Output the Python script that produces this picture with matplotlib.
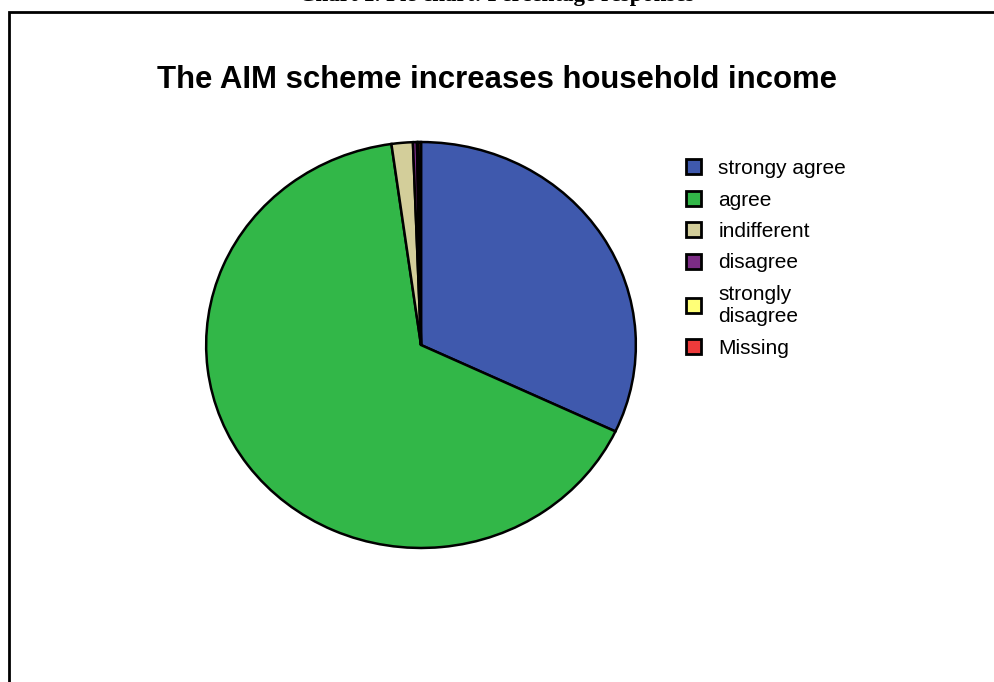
"""Pie chart of responses: "The AIM scheme increases household income"."""
import matplotlib

matplotlib.use('Agg')
import matplotlib.pyplot as plt
from matplotlib.patches import Rectangle

W_PX, H_PX = 994, 682
DPI = 100

categories = ['strongy agree', 'agree', 'indifferent', 'disagree',
              'strongly\ndisagree', 'Missing']
percentages = [32.0, 65.8, 1.6, 0.3, 0.1, 0.2]
colors = ['#3F59AD', '#32B748', '#D3CE9A', '#7C2C85', '#FFFF77', '#EE3B3B']

caption = 'Chart 1. Pie chart: Percentage responses'
title = 'The AIM scheme increases household income'


def fx(px):
    return px / W_PX


def fy(py):
    return 1 - py / H_PX


def main():
    fig = plt.figure(figsize=(W_PX / DPI, H_PX / DPI), dpi=DPI)

    # outer frame (cut at right and bottom in the source)
    fig.patches.append(Rectangle((fx(9), fy(720)), fx(1020), fy(12) - fy(720),
                                 transform=fig.transFigure, fill=False,
                                 edgecolor='black', linewidth=2.0))

    # caption above the frame, mostly cut off at the top
    fig.text(0.5, fy(1), caption, ha='center', va='baseline',
             family='Liberation Serif', fontweight='bold', fontsize=16.5)

    fig.text(0.5, fy(88), title, ha='center', va='baseline',
             family='Liberation Sans', fontweight='bold', fontsize=22.4)

    # pie box in pixels: x 204..638, y 140..550
    ax = fig.add_axes([fx(204), fy(550), fx(434), fy(140) - fy(550)])
    wedges, _ = ax.pie(percentages, colors=colors, startangle=90,
                       counterclock=False, radius=1,
                       wedgeprops=dict(edgecolor='black', linewidth=1.8))
    ax.set_aspect('auto')
    ax.set_xlim(-1.01, 1.01)
    ax.set_ylim(-1.01, 1.01)
    ax.axis('off')

    leg = fig.legend(wedges, categories, loc='upper left',
                     bbox_to_anchor=(fx(686), fy(159)), frameon=False,
                     borderpad=0, borderaxespad=0, handlelength=0.7,
                     handleheight=0.7, handletextpad=0.85, labelspacing=0.6,
                     prop={'family': 'Liberation Sans', 'size': 15})
    for h in leg.legend_handles:
        h.set_linewidth(2.0)

    fig.savefig('out.png', dpi=DPI)
    plt.close(fig)


if __name__ == '__main__':
    main()
